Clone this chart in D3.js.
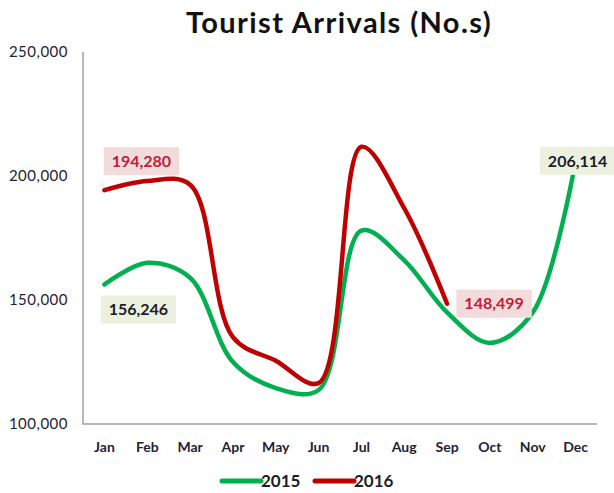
<!DOCTYPE html>
<html>
<head>
<meta charset="utf-8">
<script src="https://cdn.jsdelivr.net/npm/d3@7"></script>
<style>
  body { margin: 0; background: #fff; }
  svg { display: block; font-family: Lato, "Open Sans", sans-serif; }
</style>
</head>
<body>
<svg width="614" height="493"></svg>
<script>
// chart data
const months = ['Jan', 'Feb', 'Mar', 'Apr', 'May', 'Jun', 'Jul', 'Aug', 'Sep', 'Oct', 'Nov', 'Dec'];
const arrivals2015 = [156246, 165000, 159000, 125000, 114500, 113700, 178000, 166000, 145000, 132700, 145000, 206114];
const arrivals2016 = [194280, 198000, 196500, 135000, 125500, 116500, 211800, 187000, 148499];
const yTicks = [100000, 150000, 200000, 250000];
const seriesNames = ['2015', '2016'];

var svg = d3.select('svg');

var x = d3.scaleBand().domain(months).range([83, 597]);
var y = d3.scaleLinear().domain([100000, 250000]).range([424, 52]);
var fmt = d3.format(',');

var series = [
  { name: seriesNames[0], values: arrivals2015, color: '#00b050', bg: '#ebf1de', text: '#1c1c2a' },
  { name: seriesNames[1], values: arrivals2016, color: '#c00000', bg: '#f2dcdb', text: '#c0203c' }
];

// title
svg.append('text')
  .attr('x', 339)
  .attr('y', 33)
  .attr('text-anchor', 'middle')
  .attr('font-size', 29)
  .attr('font-weight', 'bold')
  .attr('letter-spacing', 1.4)
  .attr('fill', '#111')
  .text('Tourist Arrivals (No.s)');

// y axis labels
svg.append('g')
  .selectAll('text')
  .data(yTicks)
  .enter()
  .append('text')
  .attr('x', 68)
  .attr('y', function (d) { return y(d); })
  .attr('dy', '0.35em')
  .attr('text-anchor', 'end')
  .attr('font-size', 15)
  .attr('letter-spacing', 0.5)
  .attr('fill', '#1f2235')
  .text(function (d) { return fmt(d); });

// month labels
svg.append('g')
  .selectAll('text')
  .data(months)
  .enter()
  .append('text')
  .attr('x', function (d) { return x(d) + x.bandwidth() / 2; })
  .attr('y', 452)
  .attr('text-anchor', 'middle')
  .attr('font-size', 14)
  .attr('font-weight', 'bold')
  .attr('fill', '#1f2235')
  .text(function (d) { return d; });

// axis lines
svg.append('path')
  .attr('d', 'M83,52V424H597')
  .attr('fill', 'none')
  .attr('stroke', '#a0a0a0')
  .attr('stroke-width', 1.5);

// lines
var line = d3.line()
  .x(function (d, i) { return x(months[i]) + x.bandwidth() / 2; })
  .y(function (d) { return y(d); })
  .curve(d3.curveCatmullRom.alpha(0.5));

svg.append('g')
  .selectAll('path')
  .data(series)
  .enter()
  .append('path')
  .attr('d', function (d) { return line(d.values); })
  .attr('fill', 'none')
  .attr('stroke', function (d) { return d.color; })
  .attr('stroke-width', 4.5)
  .attr('stroke-linecap', 'round')
  .attr('stroke-linejoin', 'round');

// data labels: series index, point index, offset from the point
var labelSpec = [
  { s: 0, i: 0, dx: 34, dy: 25 },
  { s: 1, i: 0, dx: 37, dy: -29 },
  { s: 1, i: 8, dx: 47, dy: 0 },
  { s: 0, i: 11, dx: 2, dy: 0 }
];

labelSpec.forEach(function (l) {
  var s = series[l.s];
  var cx = x(months[l.i]) + x.bandwidth() / 2 + l.dx;
  var cy = y(s.values[l.i]) + l.dy;
  var g = svg.append('g');
  var rect = g.append('rect').attr('fill', s.bg);
  var t = g.append('text')
    .attr('x', cx)
    .attr('y', cy)
    .attr('dy', '0.36em')
    .attr('text-anchor', 'middle')
    .attr('font-size', 16)
    .attr('font-weight', 'bold')
    .attr('fill', s.text)
    .text(fmt(s.values[l.i]));
  var w = t.node().getBBox().width + 16;
  rect.attr('x', cx - w / 2).attr('y', cy - 14).attr('width', w).attr('height', 28);
});

// legend
var legend = svg.append('g');
var legendX = [222, 315];
series.forEach(function (s, i) {
  legend.append('line')
    .attr('x1', legendX[i]).attr('x2', legendX[i] + 39)
    .attr('y1', 481).attr('y2', 481)
    .attr('stroke', s.color)
    .attr('stroke-width', 5)
    .attr('stroke-linecap', 'round');
  legend.append('text')
    .attr('x', legendX[i] + 39)
    .attr('y', 481)
    .attr('dy', '0.36em')
    .attr('font-size', 17)
    .attr('font-weight', 'bold')
    .attr('fill', '#1c1c2a')
    .text(s.name);
});
</script>
</body>
</html>
